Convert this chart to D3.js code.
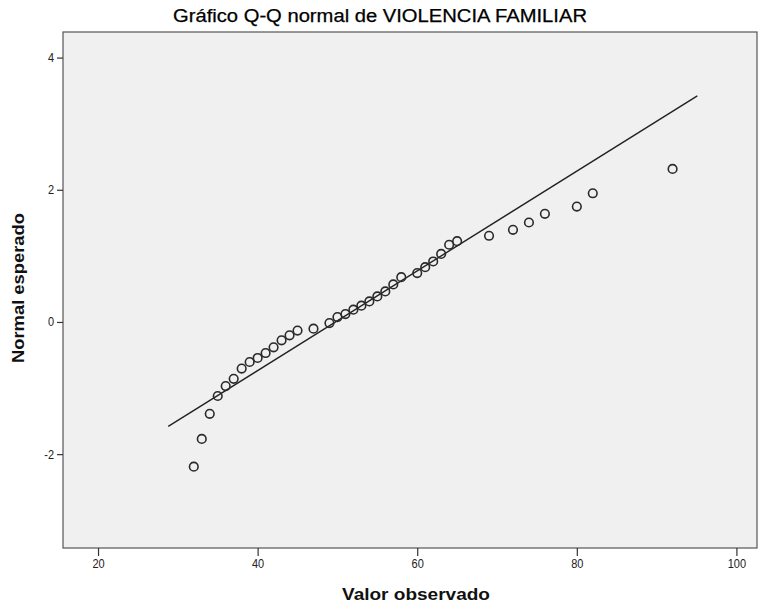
<!DOCTYPE html>
<html><head><meta charset="utf-8">
<script src="https://cdn.jsdelivr.net/npm/d3@7"></script>
<style>body{margin:0;background:#fff}svg{display:block}</style>
</head><body>
<svg id="c" width="759" height="606"></svg>
<script>
const observed = [32,33,34,35,36,37,38,39,40,41,42,43,44,45,47,49,50,51,52,53,54,55,56,57,58,60,61,62,63,64,65,69,72,74,76,80,82,92];
const expected = [-2.19,-1.77,-1.39,-1.12,-0.97,-0.86,-0.705,-0.606,-0.545,-0.47,-0.384,-0.278,-0.202,-0.131,-0.101,-0.017,0.074,0.12,0.186,0.246,0.311,0.387,0.462,0.568,0.678,0.739,0.829,0.915,1.03,1.168,1.222,1.304,1.394,1.505,1.636,1.746,1.947,2.316];
const lineMean = 49.75, lineSd = 13.26;
const lineXRange = [28.8, 95.1];
const xTicks = [20,40,60,80,100];
const yTicks = [-2,0,2,4];
const title = "Gráfico Q-Q normal de VIOLENCIA FAMILIAR";
const xLabel = "Valor observado", yLabel = "Normal esperado";

const svg = d3.select("#c");
const L=63,T=32,R=757,B=548;
const x = d3.scaleLinear().domain([15.61,102.58]).range([L,R]);
const y = d3.scaleLinear().domain([-3.42,4.387]).range([B,T]);
const font = "'Liberation Sans Narrow','Liberation Sans',Arial,sans-serif";

svg.append("rect").attr("x",L).attr("y",T).attr("width",R-L).attr("height",B-T)
  .attr("fill","#f0f0f0").attr("stroke","#555").attr("stroke-width",1.2);

const gx = svg.append("g").attr("transform",`translate(0,${B})`)
  .call(d3.axisBottom(x).tickValues(xTicks).tickSize(8).tickPadding(3).tickFormat(d=>String(d)));
const gy = svg.append("g").attr("transform",`translate(${L},0)`)
  .call(d3.axisLeft(y).tickValues(yTicks).tickSize(6).tickPadding(3).tickFormat(d=>String(d)));
[gx,gy].forEach(g=>{
  g.select(".domain").remove();
  g.selectAll("line").attr("stroke","#333").attr("stroke-width",1.2);
  g.selectAll("text").attr("font-family",font).attr("font-size",12.5).attr("fill","#222")
    .attr("transform","scale(0.88,1)")
    .attr("x",function(){ const v=+d3.select(this).attr("x")||0; return v/0.88; });
});
gx.selectAll(".tick text").attr("x",0);

svg.append("line")
  .attr("x1",x(lineXRange[0])).attr("y1",y((lineXRange[0]-lineMean)/lineSd))
  .attr("x2",x(lineXRange[1])).attr("y2",y((lineXRange[1]-lineMean)/lineSd))
  .attr("stroke","#222").attr("stroke-width",1.4);

svg.append("g").selectAll("circle").data(observed).join("circle")
  .attr("cx",d=>x(d)).attr("cy",(d,i)=>y(expected[i])).attr("r",4.3)
  .attr("fill","none").attr("stroke","#2a2a2a").attr("stroke-width",1.6);

svg.append("text").attr("x",380).attr("y",22).attr("text-anchor","middle")
  .attr("font-family",font).attr("font-size",17.5).attr("fill","#000")
  .attr("stroke","#000").attr("stroke-width",0.25)
  .attr("textLength",414).attr("lengthAdjust","spacingAndGlyphs").text(title);
svg.append("text").attr("x",416).attr("y",600).attr("text-anchor","middle")
  .attr("font-family",font).attr("font-size",17).attr("font-weight","bold").attr("fill","#111")
  .attr("textLength",148).attr("lengthAdjust","spacingAndGlyphs").text(xLabel);
svg.append("text").attr("transform","translate(24,288) rotate(-90)").attr("text-anchor","middle")
  .attr("font-family",font).attr("font-size",17).attr("font-weight","bold").attr("fill","#111")
  .attr("textLength",150).attr("lengthAdjust","spacingAndGlyphs").text(yLabel);
</script>
</body></html>
